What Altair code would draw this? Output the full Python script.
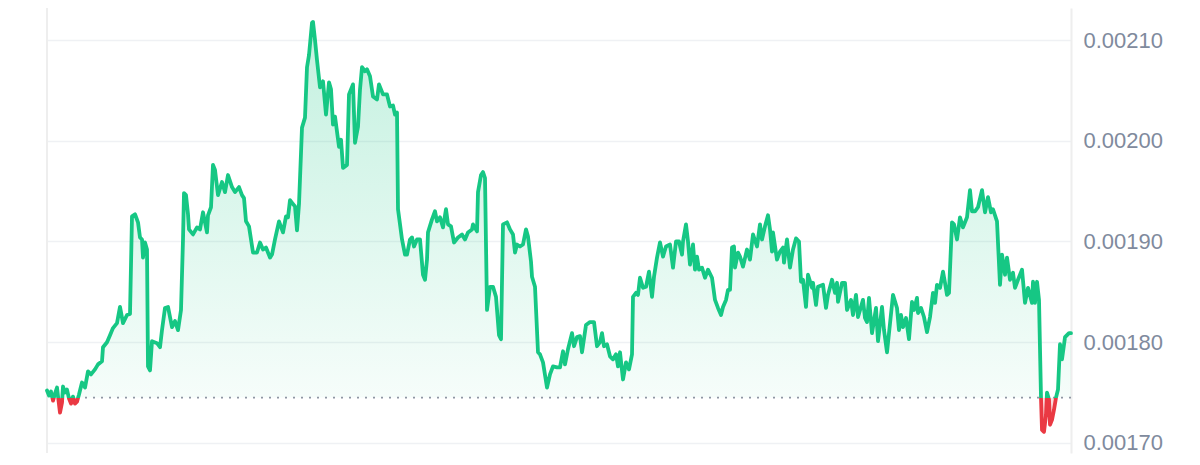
import altair as alt
import pandas as pd

# time axis: sample position across the 24h window (0 .. 1024)
steps = [0, 2, 4, 6, 8, 10, 12, 13, 15, 16, 18, 20, 22, 24, 26, 28, 30, 32, 35, 38,
         41, 44, 48, 51, 55, 56, 60, 63, 66, 70, 73, 76, 80, 83, 85, 88, 91, 93, 95, 96,
         98, 100, 101, 103, 105, 110, 113, 115, 118, 121, 125, 128, 131, 134, 136, 137, 139, 141, 142, 146,
         150, 153, 156, 160, 161, 164, 166, 168, 171, 175, 178, 181, 185, 188, 192, 195, 197, 199, 202, 206,
         210, 213, 216, 219, 223, 225, 228, 232, 236, 239, 241, 243, 246, 248, 250, 252, 255, 258, 260, 262,
         265, 266, 268, 270, 273, 276, 279, 282, 284, 286, 288, 292, 294, 296, 300, 302, 306, 308, 311, 313,
         315, 318, 320, 323, 326, 330, 332, 336, 340, 343, 346, 348, 350, 351, 353, 355, 358, 360, 363, 365,
         367, 370, 373, 376, 378, 380, 381, 385, 388, 390, 393, 396, 399, 401, 404, 407, 411, 415, 418, 421,
         425, 426, 430, 431, 434, 436, 438, 440, 443, 446, 449, 452, 454, 456, 460, 463, 466, 468, 470, 473,
         476, 479, 481, 484, 485, 488, 491, 493, 496, 500, 503, 506, 510, 513, 516, 518, 521, 525, 527, 530,
         533, 535, 539, 543, 547, 550, 553, 555, 557, 560, 563, 566, 569, 571, 573, 576, 579, 582, 585, 586,
         589, 591, 593, 596, 599, 602, 605, 607, 610, 613, 616, 619, 623, 626, 629, 632, 635, 636, 639, 641,
         643, 646, 648, 650, 652, 655, 658, 661, 665, 668, 671, 674, 676, 679, 681, 683, 685, 687, 688, 691,
         693, 696, 700, 703, 706, 710, 713, 715, 718, 721, 723, 725, 726, 730, 733, 736, 737, 740, 743, 746,
         749, 752, 754, 756, 759, 761, 765, 766, 769, 771, 776, 779, 781, 785, 788, 790, 791, 795, 798, 800,
         804, 806, 809, 811, 816, 818, 820, 822, 825, 829, 831, 835, 837, 840, 842, 846, 850, 852, 854, 856,
         859, 862, 865, 867, 870, 871, 874, 877, 880, 883, 886, 888, 890, 893, 896, 898, 900, 902, 905, 907,
         910, 913, 916, 920, 923, 925, 928, 931, 935, 938, 941, 944, 946, 950, 953, 955, 958, 960, 963, 966,
         968, 971, 975, 978, 981, 985, 986, 988, 990, 992, 994, 995, 997, 999, 1000, 1002, 1003, 1005, 1007, 1009,
         1011, 1013, 1015, 1018, 1022, 1024]

# price in units of 1e-6
price_e6 = [1752, 1747, 1751, 1742, 1749, 1755, 1738, 1730, 1740, 1756, 1750, 1753, 1744, 1739, 1746, 1739, 1741, 1748, 1760, 1755,
            1771, 1768, 1773, 1778, 1781, 1795, 1800, 1807, 1814, 1819, 1835, 1819, 1827, 1828, 1925, 1927, 1919, 1904, 1902, 1884,
            1899, 1892, 1776, 1772, 1801, 1799, 1795, 1812, 1834, 1835, 1815, 1821, 1812, 1832, 1902, 1948, 1946, 1927, 1912, 1907,
            1914, 1912, 1929, 1909, 1926, 1934, 1976, 1971, 1946, 1959, 1949, 1966, 1954, 1949, 1954, 1946, 1943, 1920, 1915, 1889,
            1889, 1899, 1892, 1894, 1884, 1887, 1902, 1920, 1909, 1925, 1924, 1941, 1937, 1935, 1911, 1937, 2013, 2023, 2073, 2085,
            2117, 2118, 2100, 2080, 2053, 2059, 2026, 2058, 2051, 2016, 2024, 1994, 2001, 1973, 1976, 2046, 2056, 1998, 2014, 2051,
            2073, 2069, 2071, 2064, 2044, 2041, 2056, 2046, 2046, 2034, 2035, 2026, 2028, 1932, 1917, 1902, 1887, 1887, 1902, 1904,
            1895, 1902, 1902, 1867, 1862, 1882, 1909, 1922, 1930, 1920, 1924, 1914, 1932, 1917, 1915, 1899, 1904, 1907, 1902, 1909,
            1912, 1917, 1910, 1949, 1966, 1969, 1963, 1832, 1855, 1855, 1845, 1807, 1803, 1917, 1919, 1912, 1907, 1889, 1897, 1895,
            1897, 1912, 1905, 1880, 1865, 1855, 1790, 1788, 1780, 1755, 1768, 1776, 1775, 1775, 1791, 1778, 1793, 1809, 1796, 1805,
            1806, 1790, 1817, 1820, 1820, 1796, 1800, 1809, 1796, 1798, 1786, 1783, 1788, 1776, 1790, 1763, 1780, 1773, 1788, 1845,
            1849, 1847, 1864, 1854, 1855, 1870, 1845, 1865, 1884, 1899, 1885, 1895, 1897, 1874, 1900, 1900, 1887, 1900, 1917, 1900,
            1877, 1897, 1872, 1885, 1872, 1874, 1864, 1872, 1864, 1842, 1834, 1827, 1835, 1842, 1852, 1852, 1894, 1895, 1874, 1889,
            1885, 1875, 1892, 1882, 1907, 1895, 1917, 1902, 1915, 1926, 1912, 1890, 1909, 1882, 1890, 1894, 1879, 1902, 1874, 1892,
            1903, 1900, 1860, 1862, 1835, 1867, 1854, 1859, 1837, 1855, 1857, 1834, 1847, 1862, 1849, 1859, 1840, 1859, 1859, 1832,
            1842, 1827, 1847, 1825, 1842, 1824, 1820, 1844, 1809, 1834, 1801, 1835, 1812, 1790, 1809, 1847, 1834, 1812, 1827, 1815,
            1824, 1803, 1840, 1832, 1844, 1829, 1834, 1825, 1810, 1825, 1849, 1839, 1857, 1854, 1870, 1859, 1847, 1849, 1919, 1917,
            1902, 1924, 1914, 1924, 1951, 1930, 1930, 1934, 1951, 1929, 1944, 1929, 1932, 1920, 1857, 1887, 1867, 1884, 1862, 1869,
            1854, 1862, 1872, 1839, 1854, 1839, 1860, 1839, 1860, 1842, 1745, 1713, 1711, 1728, 1750, 1743, 1718, 1723, 1733, 1745,
            1753, 1798, 1783, 1805, 1809, 1809]

prices = [v / 1e6 for v in price_e6]
base_price = 0.001745
tick_values = [0.00170, 0.00180, 0.00190, 0.00200, 0.00210]

GREEN = "#16C784"
RED = "#EA3943"
W, H = 1024, 445
Y_DOMAIN = [0.00169, 0.0021318]

df = pd.DataFrame({"t": steps, "price": prices, "base": [base_price] * len(steps)})
df_base = pd.DataFrame({"base": [base_price]})

vmax, vmin = max(prices), min(prices)
f = (vmax - base_price) / (vmax - vmin)

x_enc = alt.X("t:Q", scale=alt.Scale(domain=[0, 1024], nice=False, zero=False), axis=None)
y_scale = alt.Scale(domain=Y_DOMAIN, nice=False, zero=False)

area = alt.Chart(df).mark_area(
    color=alt.Gradient(
        gradient="linear", x1=0, x2=0, y1=0, y2=1,
        stops=[
            alt.GradientStop(color="rgba(22,199,132,0.26)", offset=0),
            alt.GradientStop(color="rgba(22,199,132,0.04)", offset=f),
            alt.GradientStop(color="rgba(234,57,67,0.15)", offset=f),
            alt.GradientStop(color="rgba(234,57,67,0.4)", offset=1),
        ],
    )
).encode(
    x=x_enc,
    y=alt.Y("price:Q", scale=y_scale, axis=alt.Axis(
        orient="right", values=tick_values, format=".5f", title=None,
        grid=True, gridColor="#eff1f4", gridWidth=1.5,
        domain=True, domainColor="#eeeeee", domainWidth=2,
        ticks=False, labelPadding=12, labelFontSize=22,
        labelFont="Liberation Sans", labelColor="#808A9D",
    )),
    y2="base:Q",
)

line = alt.Chart(df).mark_line(
    strokeWidth=3.8, strokeJoin="round", strokeCap="round",
    stroke=alt.Gradient(
        gradient="linear", x1=0, x2=0, y1=0, y2=1,
        stops=[
            alt.GradientStop(color=GREEN, offset=0),
            alt.GradientStop(color=GREEN, offset=f),
            alt.GradientStop(color=RED, offset=f),
            alt.GradientStop(color=RED, offset=1),
        ],
    ),
).encode(x=x_enc, y=alt.Y("price:Q", scale=y_scale))

baseline = alt.Chart(df_base).mark_rule(
    color="#8f96a3", strokeWidth=1.6, strokeDash=[2, 6]
).encode(y=alt.Y("base:Q", scale=y_scale))

left_edge = alt.Chart(df_base).mark_rule(color="#eeeeee", strokeWidth=2).encode(
    x=alt.value(0), y=alt.value(0), y2=alt.value(H)
)

chart = alt.layer(left_edge, area, baseline, line).properties(
    width=W, height=H,
    autosize=alt.AutoSizeParams(type="none"),
    padding={"left": 39, "right": 121, "top": 0, "bottom": 4},
).configure_view(stroke=None)

chart.save("out.html", embed_options={"renderer": "svg", "actions": False})
